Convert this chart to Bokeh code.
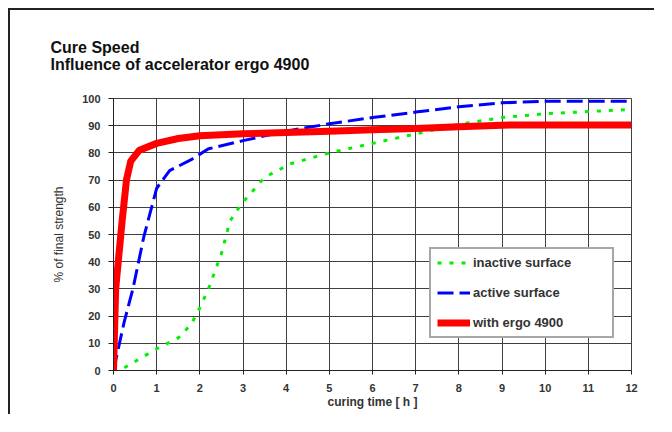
from bokeh.plotting import figure
from bokeh.models import Range1d, FixedTicker, Title
from bokeh.embed import file_html
from bokeh.resources import INLINE

# ---- data ----
time_inactive = [0.25, 1.0, 1.5, 1.8, 2.0, 2.2, 2.5, 2.7, 2.95, 3.5, 4.1, 5, 6, 7, 8, 9, 10, 11, 12]
inactive_surface = [1, 8, 12, 17, 23, 30, 43, 55, 61, 71, 76, 80, 83.5, 87, 90.5, 93, 94.4, 95.2, 96]

time_active = [0, 0.25, 0.45, 0.7, 0.85, 1.0, 1.3, 1.8, 2.2, 3, 4, 5, 6, 7, 8, 9, 10, 11, 12]
active_surface = [0, 18, 30, 49, 58, 67, 73.5, 77.5, 81.5, 84.5, 88, 90.7, 93, 95, 97, 98.4, 99, 99, 99]

time_ergo = [0, 0.05, 0.2, 0.3, 0.4, 0.6, 1, 1.5, 2, 3, 4, 5, 6, 7, 8, 9, 10, 11, 12]
with_ergo = [0, 30, 55, 70, 77, 81, 83.5, 85.3, 86.3, 87, 87.5, 88, 88.5, 89, 89.6, 90.2, 90.3, 90.3, 90.3]

x_ticks = list(range(0, 13))
y_ticks = list(range(0, 101, 10))

title_text = "Cure Speed\nInfluence of accelerator ergo 4900"
x_label = "curing time [ h ]"
y_label = "% of final strength"

FONT = "Liberation Sans"
TXT = "#333333"
GRID = "#404040"

p = figure(width=646, height=406, output_backend="svg", toolbar_location=None,
           x_range=Range1d(0, 12), y_range=Range1d(0, 100),
           min_border_left=103, min_border_top=88, min_border_right=25, min_border_bottom=46)
p.styles = {"margin-left": "8px", "margin-top": "8px",
            "border-left": "2px solid #222222", "border-top": "2px solid #222222"}

p.background_fill_color = "white"
p.border_fill_color = "white"
p.outline_line_color = GRID
p.outline_line_width = 1

# title (two lines, left aligned well left of the frame)
p.add_layout(Title(text=title_text, align="left", offset=-63, standoff=50,
                   text_font=FONT, text_font_style="bold", text_font_size="16px",
                   text_color="#111111", text_line_height=1.05), "above")

# grid
p.xgrid.ticker = FixedTicker(ticks=x_ticks)
p.ygrid.ticker = FixedTicker(ticks=y_ticks)
for g in (p.xgrid, p.ygrid):
    g.grid_line_color = GRID
    g.grid_line_width = 1

# axes
p.xaxis.ticker = FixedTicker(ticks=x_ticks)
p.yaxis.ticker = FixedTicker(ticks=y_ticks)
for ax in (p.xaxis, p.yaxis):
    ax.axis_line_color = "#222222"
    ax.major_tick_line_color = "#222222"
    ax.minor_tick_line_color = None
    ax.major_tick_in = 0
    ax.major_label_text_font = FONT
    ax.major_label_text_font_style = "bold"
    ax.major_label_text_font_size = "11px"
    ax.major_label_text_color = TXT
    ax.axis_label_text_font = FONT
    ax.axis_label_text_color = TXT
    ax.axis_label_text_font_style = "bold"

p.xaxis.major_tick_out = 4
p.xaxis.major_label_standoff = 9
p.xaxis.axis_label = x_label
p.xaxis.axis_label_text_font_size = "12px"
p.xaxis.axis_label_standoff = 0

p.yaxis.major_tick_out = 5
p.yaxis.major_label_standoff = 8
p.yaxis.axis_label = y_label
p.yaxis.axis_label_text_font_size = "12px"
p.yaxis.axis_label_text_font_style = "normal"
p.yaxis.axis_label_standoff = 13

# series
p.line(time_inactive, inactive_surface, line_color="#00f000", line_width=3,
       line_dash="4 8", legend_label="inactive surface")
p.line(time_active, active_surface, line_color="#0000ff", line_width=3,
       line_dash="16 6", legend_label="active surface")
p.line(time_ergo, with_ergo, line_color="#ff0000", line_width=7,
       line_join="round", legend_label="with ergo 4900")

# legend
lg = p.legend[0]
lg.location = (316, 32)
lg.padding = 6
lg.spacing = 15
lg.label_height = 15
lg.glyph_height = 15
lg.glyph_width = 33
lg.label_standoff = 3
lg.label_width = 133
lg.border_line_color = "#505050"
lg.border_line_width = 2
lg.background_fill_color = "white"
lg.background_fill_alpha = 1
lg.label_text_font = FONT
lg.label_text_font_style = "bold"
lg.label_text_font_size = "13px"
lg.label_text_color = TXT
lg.margin = 0

open("out.html", "w").write(file_html(p, INLINE))
